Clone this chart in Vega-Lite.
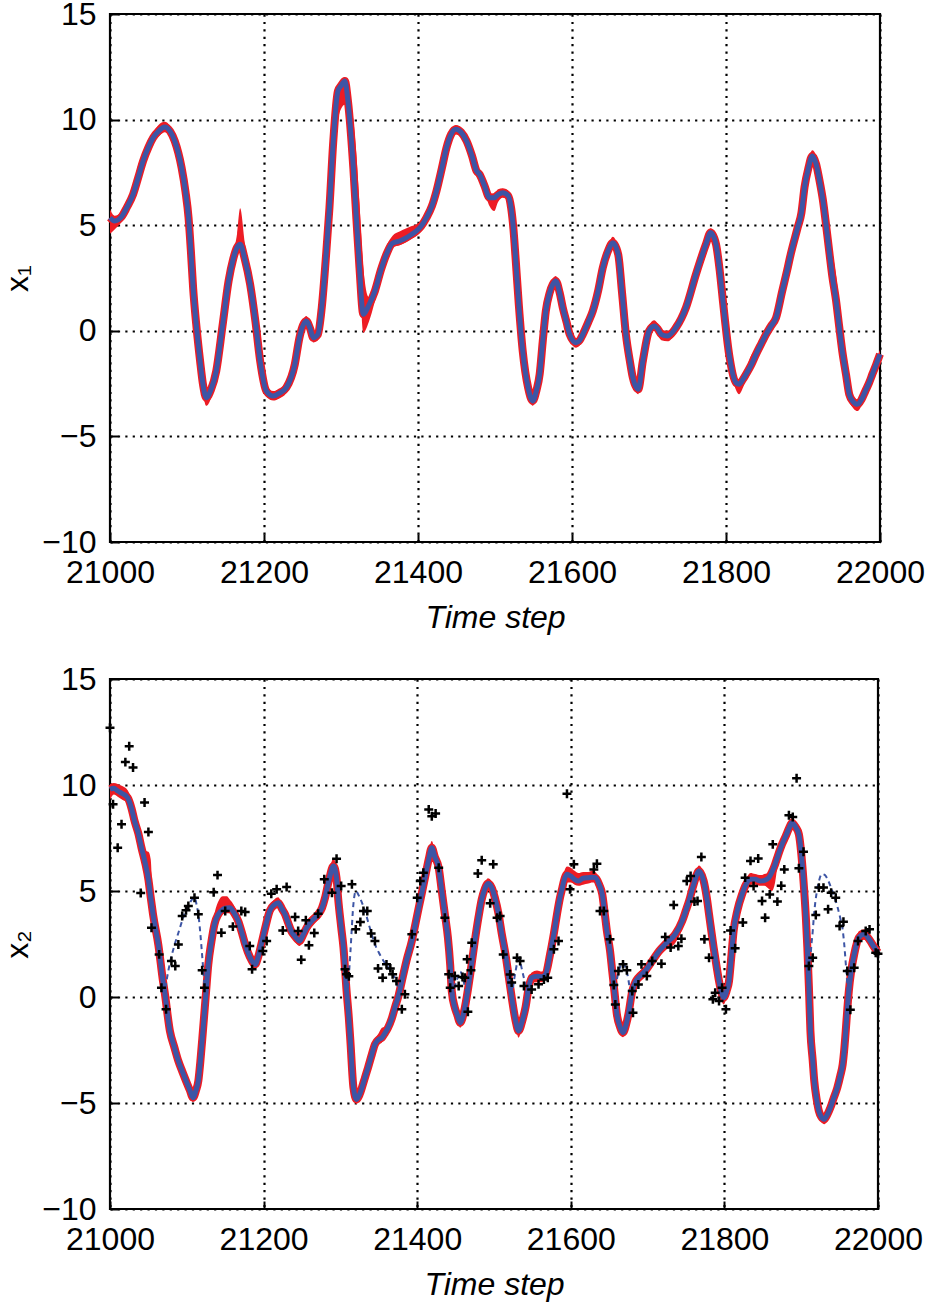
{
  "$schema": "https://vega.github.io/schema/vega-lite/v6.json",
  "padding": {"left": 0, "top": -4, "right": 0, "bottom": 0},
  "background": "white",
  "spacing": 137,
  "bounds": "flush",
  "config": {
    "view": {"stroke": "#000", "strokeWidth": 2.2},
    "axis": {
      "labelFont": "Liberation Sans", "labelFontSize": 32, "labelColor": "#000",
      "titleFont": "Liberation Sans", "titleFontSize": 32, "titleColor": "#000", "titleFontWeight": "normal",
      "grid": true, "gridColor": "#000", "gridDash": [2.2, 5.2], "gridWidth": 2.2, "gridOpacity": 1,
      "domain": false, "ticks": true, "tickSize": -8, "tickColor": "#000", "tickWidth": 2, "labelFlush": false
    }
  },
  "datasets": {
    "top": [
      {"t":21000,"x":5.36,"lo":4.6,"hi":5.75},{"t":21006,"x":5.2,"lo":4.8,"hi":5.45},{"t":21015,"x":5.4,"lo":5.15,"hi":5.65},
      {"t":21022,"x":5.85,"lo":5.6,"hi":6.1},{"t":21030,"x":6.46,"lo":6.2,"hi":6.8},{"t":21037,"x":7.3,"lo":7.0,"hi":7.9},
      {"t":21043,"x":8.04,"lo":7.8,"hi":8.4},{"t":21050,"x":8.7,"lo":8.45,"hi":8.95},{"t":21056,"x":9.14,"lo":8.9,"hi":9.4},
      {"t":21063,"x":9.45,"lo":9.2,"hi":9.75},{"t":21071,"x":9.65,"lo":9.4,"hi":9.9},{"t":21078,"x":9.45,"lo":9.2,"hi":9.7},
      {"t":21084,"x":8.99,"lo":8.75,"hi":9.25},{"t":21093,"x":7.72,"lo":7.45,"hi":8.0},{"t":21098,"x":6.6,"lo":6.3,"hi":6.9},
      {"t":21102,"x":5.36,"lo":5.0,"hi":5.6},{"t":21105,"x":3.8,"lo":3.4,"hi":4.1},{"t":21108,"x":2.0,"lo":1.6,"hi":2.3},
      {"t":21112,"x":0.3,"lo":-0.1,"hi":0.6},{"t":21117,"x":-1.43,"lo":-1.8,"hi":-1.2},{"t":21121,"x":-2.6,"lo":-3.0,"hi":-2.35},
      {"t":21125,"x":-3.17,"lo":-3.55,"hi":-2.95},{"t":21131,"x":-2.8,"lo":-3.2,"hi":-2.55},{"t":21138,"x":-1.9,"lo":-2.2,"hi":-1.65},
      {"t":21146,"x":0.2,"lo":-0.4,"hi":0.45},{"t":21154,"x":2.36,"lo":1.6,"hi":2.6},{"t":21160,"x":3.4,"lo":2.9,"hi":3.65},
      {"t":21165,"x":3.95,"lo":3.6,"hi":4.6},{"t":21169,"x":4.1,"lo":3.85,"hi":5.8},{"t":21175,"x":3.4,"lo":3.1,"hi":4.2},
      {"t":21182,"x":2.2,"lo":1.9,"hi":2.5},{"t":21189,"x":0.4,"lo":0.1,"hi":0.7},{"t":21195,"x":-1.43,"lo":-1.7,"hi":-1.15},
      {"t":21203,"x":-2.85,"lo":-3.1,"hi":-2.6},{"t":21212,"x":-3.09,"lo":-3.3,"hi":-2.85},{"t":21220,"x":-2.95,"lo":-3.2,"hi":-2.75},
      {"t":21229,"x":-2.69,"lo":-2.95,"hi":-2.45},{"t":21240,"x":-1.59,"lo":-1.85,"hi":-1.35},{"t":21246,"x":-0.33,"lo":-0.6,"hi":-0.1},
      {"t":21255,"x":0.46,"lo":0.2,"hi":0.7},{"t":21260,"x":0.1,"lo":-0.15,"hi":0.35},{"t":21264,"x":-0.33,"lo":-0.55,"hi":-0.1},
      {"t":21270,"x":-0.17,"lo":-0.45,"hi":0.05},{"t":21275,"x":1.1,"lo":0.8,"hi":1.35},{"t":21281,"x":3.78,"lo":3.3,"hi":4.0},
      {"t":21285,"x":5.83,"lo":5.2,"hi":6.1},{"t":21290,"x":8.99,"lo":8.2,"hi":9.25},{"t":21296,"x":11.35,"lo":10.0,"hi":11.6},
      {"t":21300,"x":11.6,"lo":10.5,"hi":11.8},{"t":21305,"x":11.83,"lo":10.7,"hi":12.0},{"t":21309,"x":10.88,"lo":10.6,"hi":11.3},
      {"t":21316,"x":7.72,"lo":7.5,"hi":10.0},{"t":21320,"x":5.3,"lo":5.0,"hi":8.3},{"t":21324,"x":2.99,"lo":2.7,"hi":6.0},
      {"t":21329,"x":0.78,"lo":-0.1,"hi":3.0},{"t":21336,"x":1.2,"lo":0.4,"hi":1.6},{"t":21344,"x":1.88,"lo":1.4,"hi":2.1},
      {"t":21352,"x":2.9,"lo":2.6,"hi":3.2},{"t":21359,"x":3.62,"lo":3.4,"hi":4.0},{"t":21367,"x":4.15,"lo":3.95,"hi":4.5},
      {"t":21376,"x":4.25,"lo":4.05,"hi":4.7},{"t":21385,"x":4.41,"lo":4.2,"hi":4.85},{"t":21391,"x":4.55,"lo":4.35,"hi":4.95},
      {"t":21398,"x":4.73,"lo":4.5,"hi":5.05},{"t":21404,"x":4.95,"lo":4.7,"hi":5.2},{"t":21411,"x":5.36,"lo":5.1,"hi":5.6},
      {"t":21418,"x":5.9,"lo":5.65,"hi":6.15},{"t":21424,"x":6.62,"lo":6.35,"hi":6.85},{"t":21431,"x":7.7,"lo":7.45,"hi":7.95},
      {"t":21437,"x":8.67,"lo":8.4,"hi":8.9},{"t":21443,"x":9.3,"lo":9.05,"hi":9.5},{"t":21449,"x":9.54,"lo":9.3,"hi":9.75},
      {"t":21456,"x":9.4,"lo":9.15,"hi":9.6},{"t":21463,"x":8.99,"lo":8.75,"hi":9.2},{"t":21470,"x":8.3,"lo":8.05,"hi":8.55},
      {"t":21476,"x":7.57,"lo":7.3,"hi":7.8},{"t":21480,"x":7.41,"lo":7.1,"hi":7.6},{"t":21486,"x":6.9,"lo":6.6,"hi":7.1},
      {"t":21493,"x":6.3,"lo":5.9,"hi":6.5},{"t":21499,"x":6.3,"lo":5.67,"hi":6.5},{"t":21504,"x":6.45,"lo":6.1,"hi":6.7},
      {"t":21510,"x":6.54,"lo":6.3,"hi":6.75},{"t":21517,"x":6.4,"lo":6.15,"hi":6.65},{"t":21521,"x":5.8,"lo":5.5,"hi":6.05},
      {"t":21524,"x":4.8,"lo":4.5,"hi":5.1},{"t":21527,"x":3.3,"lo":3.0,"hi":3.55},{"t":21531,"x":1.2,"lo":0.9,"hi":1.5},
      {"t":21536,"x":-0.96,"lo":-1.25,"hi":-0.7},{"t":21543,"x":-2.69,"lo":-2.95,"hi":-2.45},{"t":21549,"x":-3.32,"lo":-3.55,"hi":-3.1},
      {"t":21554,"x":-2.8,"lo":-3.05,"hi":-2.55},{"t":21558,"x":-2.06,"lo":-2.3,"hi":-1.8},{"t":21562,"x":-0.5,"lo":-0.8,"hi":-0.2},
      {"t":21566,"x":0.94,"lo":0.65,"hi":1.2},{"t":21571,"x":1.8,"lo":1.55,"hi":2.05},{"t":21575,"x":2.2,"lo":1.95,"hi":2.45},
      {"t":21579,"x":2.36,"lo":2.1,"hi":2.6},{"t":21584,"x":1.8,"lo":1.55,"hi":2.05},{"t":21588,"x":1.1,"lo":0.85,"hi":1.35},
      {"t":21593,"x":0.4,"lo":0.15,"hi":0.65},{"t":21597,"x":-0.17,"lo":-0.4,"hi":0.05},{"t":21605,"x":-0.56,"lo":-0.8,"hi":-0.35},
      {"t":21610,"x":-0.45,"lo":-0.7,"hi":-0.2},{"t":21614,"x":-0.17,"lo":-0.4,"hi":0.05},{"t":21621,"x":0.4,"lo":0.15,"hi":0.65},
      {"t":21627,"x":0.94,"lo":0.7,"hi":1.2},{"t":21634,"x":1.9,"lo":1.65,"hi":2.15},{"t":21640,"x":2.99,"lo":2.75,"hi":3.25},
      {"t":21647,"x":3.8,"lo":3.55,"hi":4.05},{"t":21653,"x":4.17,"lo":3.9,"hi":4.45},{"t":21660,"x":3.62,"lo":3.4,"hi":3.85},
      {"t":21665,"x":1.8,"lo":1.55,"hi":2.05},{"t":21670,"x":-0.17,"lo":-0.4,"hi":0.1},{"t":21675,"x":-1.4,"lo":-1.65,"hi":-1.15},
      {"t":21679,"x":-2.22,"lo":-2.45,"hi":-1.95},{"t":21686,"x":-2.77,"lo":-3.0,"hi":-2.5},{"t":21692,"x":-1.43,"lo":-1.7,"hi":-1.2},
      {"t":21700,"x":-0.01,"lo":-0.25,"hi":0.25},{"t":21707,"x":0.23,"lo":0.0,"hi":0.5},{"t":21712,"x":0.05,"lo":-0.25,"hi":0.3},
      {"t":21716,"x":-0.17,"lo":-0.45,"hi":0.05},{"t":21724,"x":-0.25,"lo":-0.5,"hi":0.0},{"t":21735,"x":0.15,"lo":-0.1,"hi":0.4},
      {"t":21748,"x":1.1,"lo":0.85,"hi":1.35},{"t":21761,"x":2.68,"lo":2.3,"hi":2.9},{"t":21774,"x":4.1,"lo":3.6,"hi":4.3},
      {"t":21780,"x":4.65,"lo":4.35,"hi":4.85},{"t":21787,"x":4.1,"lo":3.85,"hi":4.35},{"t":21792,"x":2.8,"lo":2.55,"hi":3.05},
      {"t":21796,"x":1.41,"lo":1.1,"hi":1.65},{"t":21804,"x":-1.11,"lo":-1.4,"hi":-0.85},{"t":21813,"x":-2.46,"lo":-2.8,"hi":-2.2},
      {"t":21817,"x":-2.53,"lo":-3.0,"hi":-2.3},{"t":21822,"x":-2.3,"lo":-2.7,"hi":-2.05},{"t":21826,"x":-2.06,"lo":-2.3,"hi":-1.8},
      {"t":21833,"x":-1.6,"lo":-1.75,"hi":-1.15},{"t":21839,"x":-1.11,"lo":-1.3,"hi":-0.85},{"t":21846,"x":-0.6,"lo":-0.85,"hi":-0.35},
      {"t":21852,"x":-0.17,"lo":-0.4,"hi":0.05},{"t":21858,"x":0.2,"lo":-0.05,"hi":0.45},{"t":21865,"x":0.62,"lo":0.35,"hi":0.9},
      {"t":21873,"x":1.88,"lo":1.6,"hi":2.15},{"t":21879,"x":2.8,"lo":2.5,"hi":3.05},{"t":21884,"x":3.62,"lo":3.3,"hi":3.9},
      {"t":21893,"x":4.88,"lo":4.6,"hi":5.2},{"t":21898,"x":5.6,"lo":5.3,"hi":5.9},{"t":21902,"x":6.8,"lo":6.5,"hi":7.1},
      {"t":21907,"x":7.7,"lo":7.4,"hi":8.0},{"t":21912,"x":8.28,"lo":8.0,"hi":8.55},{"t":21917,"x":7.9,"lo":7.6,"hi":8.3},
      {"t":21921,"x":7.2,"lo":6.95,"hi":7.6},{"t":21926,"x":6.15,"lo":5.9,"hi":6.8},{"t":21930,"x":5.0,"lo":4.75,"hi":6.0},
      {"t":21934,"x":3.78,"lo":3.5,"hi":4.9},{"t":21938,"x":2.6,"lo":2.35,"hi":3.8},{"t":21943,"x":1.41,"lo":1.15,"hi":2.6},
      {"t":21947,"x":0.2,"lo":-0.05,"hi":1.4},{"t":21951,"x":-0.96,"lo":-1.2,"hi":0.0},{"t":21956,"x":-2.1,"lo":-2.35,"hi":-1.3},
      {"t":21960,"x":-3.0,"lo":-3.3,"hi":-2.5},{"t":21965,"x":-3.35,"lo":-3.65,"hi":-3.1},{"t":21971,"x":-3.48,"lo":-3.8,"hi":-3.25},
      {"t":21976,"x":-3.25,"lo":-3.55,"hi":-3.0},{"t":21981,"x":-2.85,"lo":-3.1,"hi":-2.6},{"t":21986,"x":-2.45,"lo":-2.7,"hi":-2.2},
      {"t":21990,"x":-2.06,"lo":-2.3,"hi":-1.8},{"t":21995,"x":-1.6,"lo":-1.85,"hi":-1.35},{"t":22000,"x":-1.11,"lo":-1.35,"hi":-0.9}
    ],
    "bot": [
      {"t":21000,"x":9.8,"lo":9.3,"hi":10.05},{"t":21005,"x":9.85,"lo":9.55,"hi":10.1},{"t":21010,"x":9.72,"lo":9.45,"hi":10.05},
      {"t":21016,"x":9.6,"lo":9.3,"hi":9.95},{"t":21023,"x":9.4,"lo":9.15,"hi":9.75},{"t":21028,"x":8.9,"lo":8.6,"hi":9.3},
      {"t":21032,"x":8.3,"lo":8.05,"hi":8.7},{"t":21037,"x":7.7,"lo":7.4,"hi":8.1},{"t":21041,"x":7.04,"lo":6.8,"hi":7.3},
      {"t":21046,"x":6.3,"lo":6.0,"hi":6.9},{"t":21050,"x":5.55,"lo":5.3,"hi":6.85},{"t":21053,"x":4.7,"lo":4.45,"hi":6.5},
      {"t":21056,"x":3.9,"lo":3.65,"hi":4.2},{"t":21063,"x":2.45,"lo":2.2,"hi":2.7},{"t":21069,"x":0.75,"lo":0.5,"hi":1.0},
      {"t":21071,"x":0.28,"lo":0.05,"hi":0.5},{"t":21078,"x":-1.6,"lo":-1.85,"hi":-1.35},{"t":21084,"x":-2.4,"lo":-2.65,"hi":-2.15},
      {"t":21089,"x":-3.02,"lo":-3.25,"hi":-2.8},{"t":21094,"x":-3.5,"lo":-3.75,"hi":-3.25},{"t":21099,"x":-3.96,"lo":-4.2,"hi":-3.7},
      {"t":21104,"x":-4.4,"lo":-4.65,"hi":-4.15},{"t":21108,"x":-4.75,"lo":-4.95,"hi":-4.5},{"t":21112,"x":-4.4,"lo":-4.65,"hi":-4.15},
      {"t":21115,"x":-3.96,"lo":-4.2,"hi":-3.7},{"t":21118,"x":-2.9,"lo":-3.15,"hi":-2.65},{"t":21121,"x":-1.6,"lo":-1.9,"hi":-1.35},
      {"t":21125,"x":0.2,"lo":-0.1,"hi":0.45},{"t":21128,"x":1.54,"lo":1.25,"hi":1.8},{"t":21132,"x":2.6,"lo":2.3,"hi":2.9},
      {"t":21136,"x":3.43,"lo":3.2,"hi":3.9},{"t":21141,"x":3.9,"lo":3.65,"hi":4.5},{"t":21147,"x":4.14,"lo":3.9,"hi":4.75},
      {"t":21152,"x":4.2,"lo":3.95,"hi":4.75},{"t":21156,"x":4.21,"lo":3.95,"hi":4.6},{"t":21161,"x":4.0,"lo":3.75,"hi":4.35},
      {"t":21167,"x":3.58,"lo":3.3,"hi":3.85},{"t":21172,"x":3.0,"lo":2.75,"hi":3.3},{"t":21176,"x":2.48,"lo":2.2,"hi":2.75},
      {"t":21182,"x":1.9,"lo":1.65,"hi":2.15},{"t":21189,"x":1.54,"lo":1.3,"hi":1.8},{"t":21193,"x":1.9,"lo":1.65,"hi":2.15},
      {"t":21197,"x":2.48,"lo":2.25,"hi":2.75},{"t":21203,"x":3.4,"lo":3.15,"hi":3.65},{"t":21208,"x":4.06,"lo":3.8,"hi":4.3},
      {"t":21214,"x":4.35,"lo":4.1,"hi":4.6},{"t":21219,"x":4.45,"lo":4.2,"hi":4.7},{"t":21224,"x":4.15,"lo":3.9,"hi":4.4},
      {"t":21228,"x":3.9,"lo":3.65,"hi":4.15},{"t":21232,"x":3.5,"lo":3.25,"hi":3.75},{"t":21236,"x":3.11,"lo":2.85,"hi":3.35},
      {"t":21241,"x":2.85,"lo":2.6,"hi":3.1},{"t":21247,"x":2.64,"lo":2.4,"hi":2.9},{"t":21251,"x":2.9,"lo":2.65,"hi":3.2},
      {"t":21256,"x":3.27,"lo":3.0,"hi":3.6},{"t":21263,"x":3.6,"lo":3.35,"hi":3.85},{"t":21271,"x":3.9,"lo":3.65,"hi":4.15},
      {"t":21276,"x":4.2,"lo":3.95,"hi":4.45},{"t":21280,"x":4.68,"lo":4.4,"hi":4.95},{"t":21285,"x":5.5,"lo":5.25,"hi":5.8},
      {"t":21291,"x":6.18,"lo":5.9,"hi":6.57},{"t":21295,"x":5.6,"lo":5.3,"hi":5.9},{"t":21297,"x":4.68,"lo":4.4,"hi":4.95},
      {"t":21301,"x":3.3,"lo":3.0,"hi":3.6},{"t":21304,"x":2.33,"lo":2.05,"hi":2.6},{"t":21308,"x":0.3,"lo":0.0,"hi":0.6},
      {"t":21311,"x":-1.0,"lo":-1.3,"hi":-0.7},{"t":21313,"x":-2.08,"lo":-2.35,"hi":-1.8},{"t":21317,"x":-4.28,"lo":-4.55,"hi":-4.0},
      {"t":21321,"x":-4.83,"lo":-5.05,"hi":-4.4},{"t":21325,"x":-4.6,"lo":-4.85,"hi":-4.3},{"t":21328,"x":-4.28,"lo":-4.7,"hi":-4.0},
      {"t":21332,"x":-3.8,"lo":-4.05,"hi":-3.55},{"t":21336,"x":-3.33,"lo":-3.6,"hi":-3.05},{"t":21341,"x":-2.7,"lo":-2.95,"hi":-2.45},
      {"t":21345,"x":-2.23,"lo":-2.5,"hi":-2.0},{"t":21350,"x":-2.0,"lo":-2.25,"hi":-1.7},{"t":21354,"x":-1.92,"lo":-2.15,"hi":-1.45},
      {"t":21358,"x":-1.7,"lo":-1.95,"hi":-1.4},{"t":21362,"x":-1.45,"lo":-1.7,"hi":-1.2},{"t":21367,"x":-1.0,"lo":-1.3,"hi":-0.75},
      {"t":21371,"x":-0.5,"lo":-0.8,"hi":-0.25},{"t":21376,"x":0.1,"lo":-0.3,"hi":0.35},{"t":21380,"x":0.75,"lo":0.3,"hi":1.0},
      {"t":21386,"x":1.7,"lo":1.2,"hi":1.95},{"t":21393,"x":2.64,"lo":2.3,"hi":2.9},{"t":21398,"x":3.5,"lo":3.25,"hi":3.75},
      {"t":21402,"x":4.21,"lo":3.95,"hi":4.45},{"t":21406,"x":4.9,"lo":4.65,"hi":5.15},{"t":21410,"x":5.6,"lo":5.35,"hi":5.85},
      {"t":21415,"x":6.5,"lo":6.25,"hi":6.85},{"t":21419,"x":7.04,"lo":6.75,"hi":7.36},{"t":21423,"x":6.6,"lo":6.35,"hi":6.9},
      {"t":21428,"x":6.1,"lo":5.85,"hi":6.35},{"t":21432,"x":5.0,"lo":4.75,"hi":5.25},{"t":21436,"x":3.9,"lo":3.65,"hi":4.15},
      {"t":21440,"x":2.8,"lo":2.55,"hi":3.05},{"t":21443,"x":1.5,"lo":1.25,"hi":1.75},{"t":21445,"x":0.28,"lo":0.0,"hi":0.5},
      {"t":21449,"x":-0.5,"lo":-0.75,"hi":-0.25},{"t":21452,"x":-0.82,"lo":-1.05,"hi":-0.6},{"t":21456,"x":-1.21,"lo":-1.45,"hi":-1.0},
      {"t":21462,"x":-0.5,"lo":-0.75,"hi":-0.25},{"t":21469,"x":1.07,"lo":0.8,"hi":1.3},{"t":21475,"x":2.64,"lo":2.4,"hi":2.9},
      {"t":21480,"x":3.8,"lo":3.55,"hi":4.05},{"t":21484,"x":4.6,"lo":4.35,"hi":4.85},{"t":21488,"x":5.1,"lo":4.85,"hi":5.35},
      {"t":21492,"x":5.35,"lo":5.1,"hi":5.6},{"t":21497,"x":5.16,"lo":4.9,"hi":5.45},{"t":21501,"x":4.7,"lo":4.45,"hi":4.95},
      {"t":21506,"x":3.9,"lo":3.65,"hi":4.15},{"t":21510,"x":3.0,"lo":2.75,"hi":3.25},{"t":21515,"x":2.0,"lo":1.75,"hi":2.25},
      {"t":21519,"x":1.0,"lo":0.75,"hi":1.25},{"t":21523,"x":0.0,"lo":-0.25,"hi":0.25},{"t":21528,"x":-1.1,"lo":-1.35,"hi":-0.85},
      {"t":21532,"x":-1.6,"lo":-1.92,"hi":-1.35},{"t":21537,"x":-1.1,"lo":-1.35,"hi":-0.85},{"t":21541,"x":-0.5,"lo":-0.75,"hi":-0.25},
      {"t":21545,"x":0.4,"lo":0.15,"hi":0.65},{"t":21549,"x":0.91,"lo":0.65,"hi":1.15},{"t":21556,"x":0.98,"lo":0.7,"hi":1.25},
      {"t":21562,"x":0.95,"lo":0.7,"hi":1.2},{"t":21567,"x":1.06,"lo":0.8,"hi":1.3},{"t":21573,"x":2.01,"lo":1.75,"hi":2.25},
      {"t":21578,"x":3.0,"lo":2.75,"hi":3.3},{"t":21582,"x":3.9,"lo":3.6,"hi":4.2},{"t":21586,"x":4.7,"lo":4.4,"hi":5.0},
      {"t":21589,"x":5.16,"lo":4.9,"hi":5.5},{"t":21591,"x":5.47,"lo":5.2,"hi":5.85},{"t":21595,"x":5.79,"lo":5.4,"hi":6.15},
      {"t":21600,"x":5.7,"lo":5.4,"hi":6.1},{"t":21605,"x":5.55,"lo":5.3,"hi":5.95},{"t":21610,"x":5.47,"lo":5.25,"hi":5.85},
      {"t":21616,"x":5.6,"lo":5.3,"hi":5.9},{"t":21623,"x":5.63,"lo":5.35,"hi":5.9},{"t":21628,"x":5.65,"lo":5.4,"hi":5.95},
      {"t":21632,"x":5.63,"lo":5.4,"hi":5.9},{"t":21637,"x":5.3,"lo":5.05,"hi":5.55},{"t":21641,"x":4.84,"lo":4.6,"hi":5.1},
      {"t":21644,"x":4.0,"lo":3.75,"hi":4.25},{"t":21647,"x":3.11,"lo":2.85,"hi":3.35},{"t":21651,"x":2.2,"lo":1.95,"hi":2.45},
      {"t":21654,"x":1.2,"lo":0.95,"hi":1.45},{"t":21657,"x":0.2,"lo":-0.05,"hi":0.45},{"t":21660,"x":-0.82,"lo":-1.05,"hi":-0.6},
      {"t":21664,"x":-1.4,"lo":-1.65,"hi":-1.15},{"t":21668,"x":-1.68,"lo":-1.9,"hi":-1.45},{"t":21672,"x":-1.3,"lo":-1.55,"hi":-1.05},
      {"t":21675,"x":-0.82,"lo":-1.05,"hi":-0.6},{"t":21680,"x":0.28,"lo":0.05,"hi":0.5},{"t":21684,"x":0.7,"lo":0.45,"hi":0.95},
      {"t":21688,"x":0.91,"lo":0.65,"hi":1.15},{"t":21697,"x":1.23,"lo":0.95,"hi":1.5},{"t":21706,"x":1.7,"lo":1.45,"hi":1.95},
      {"t":21715,"x":2.17,"lo":1.9,"hi":2.4},{"t":21725,"x":2.56,"lo":2.25,"hi":2.8},{"t":21736,"x":2.96,"lo":2.55,"hi":3.2},
      {"t":21745,"x":3.58,"lo":3.2,"hi":3.8},{"t":21750,"x":4.1,"lo":3.75,"hi":4.35},{"t":21754,"x":4.53,"lo":4.25,"hi":4.75},
      {"t":21760,"x":5.32,"lo":5.05,"hi":5.55},{"t":21767,"x":5.94,"lo":5.65,"hi":6.2},{"t":21773,"x":5.47,"lo":5.2,"hi":5.75},
      {"t":21777,"x":4.7,"lo":4.45,"hi":4.95},{"t":21780,"x":3.9,"lo":3.65,"hi":4.15},{"t":21786,"x":2.33,"lo":2.05,"hi":2.6},
      {"t":21790,"x":1.4,"lo":1.1,"hi":1.65},{"t":21793,"x":0.75,"lo":0.45,"hi":1.0},{"t":21799,"x":-0.03,"lo":-0.35,"hi":0.2},
      {"t":21803,"x":0.3,"lo":0.0,"hi":0.55},{"t":21806,"x":0.75,"lo":0.5,"hi":1.0},{"t":21809,"x":1.9,"lo":1.65,"hi":2.15},
      {"t":21812,"x":3.11,"lo":2.85,"hi":3.35},{"t":21817,"x":4.1,"lo":3.85,"hi":4.35},{"t":21823,"x":4.84,"lo":4.6,"hi":5.1},
      {"t":21828,"x":5.3,"lo":5.05,"hi":5.55},{"t":21834,"x":5.55,"lo":5.3,"hi":5.85},{"t":21840,"x":5.55,"lo":5.3,"hi":5.8},
      {"t":21847,"x":5.47,"lo":5.25,"hi":5.75},{"t":21852,"x":5.5,"lo":5.25,"hi":5.8},{"t":21858,"x":5.63,"lo":5.1,"hi":5.9},
      {"t":21862,"x":5.9,"lo":5.0,"hi":6.15},{"t":21866,"x":6.26,"lo":5.4,"hi":6.5},{"t":21870,"x":6.7,"lo":6.4,"hi":6.95},
      {"t":21875,"x":7.2,"lo":6.95,"hi":7.45},{"t":21880,"x":7.6,"lo":7.35,"hi":7.85},{"t":21884,"x":7.95,"lo":7.7,"hi":8.2},
      {"t":21888,"x":8.22,"lo":7.95,"hi":8.45},{"t":21893,"x":8.0,"lo":7.75,"hi":8.25},{"t":21897,"x":7.67,"lo":7.4,"hi":7.9},
      {"t":21900,"x":6.8,"lo":6.55,"hi":7.05},{"t":21903,"x":5.47,"lo":5.2,"hi":5.75},{"t":21906,"x":3.8,"lo":3.55,"hi":4.05},
      {"t":21908,"x":2.33,"lo":2.05,"hi":2.6},{"t":21910,"x":0.5,"lo":0.2,"hi":0.8},{"t":21912,"x":-1.6,"lo":-1.85,"hi":-1.35},
      {"t":21915,"x":-3.0,"lo":-3.25,"hi":-2.75},{"t":21917,"x":-3.96,"lo":-4.2,"hi":-3.7},{"t":21920,"x":-4.8,"lo":-5.05,"hi":-4.55},
      {"t":21923,"x":-5.38,"lo":-5.6,"hi":-5.15},{"t":21926,"x":-5.65,"lo":-5.9,"hi":-5.4},{"t":21930,"x":-5.77,"lo":-6.0,"hi":-5.55},
      {"t":21934,"x":-5.55,"lo":-5.85,"hi":-5.3},{"t":21938,"x":-5.22,"lo":-5.55,"hi":-4.95},{"t":21942,"x":-4.8,"lo":-5.1,"hi":-4.55},
      {"t":21947,"x":-4.28,"lo":-4.55,"hi":-4.0},{"t":21951,"x":-3.7,"lo":-3.95,"hi":-3.45},{"t":21954,"x":-3.18,"lo":-3.45,"hi":-2.9},
      {"t":21956,"x":-2.5,"lo":-2.75,"hi":-2.25},{"t":21958,"x":-1.6,"lo":-1.85,"hi":-1.35},{"t":21960,"x":-0.6,"lo":-0.85,"hi":-0.35},
      {"t":21962,"x":0.28,"lo":0.0,"hi":0.55},{"t":21965,"x":1.2,"lo":0.95,"hi":1.45},{"t":21969,"x":2.01,"lo":1.75,"hi":2.25},
      {"t":21975,"x":2.8,"lo":2.55,"hi":3.1},{"t":21982,"x":2.96,"lo":2.7,"hi":3.2},{"t":21990,"x":2.64,"lo":2.4,"hi":2.9},
      {"t":21995,"x":2.35,"lo":2.1,"hi":2.6},{"t":22000,"x":2.1,"lo":1.85,"hi":2.35}
    ],
    "dash": [
      {"seg":1,"t":21070,"v":0},{"seg":1,"t":21078,"v":1.6},{"seg":1,"t":21084,"v":2.45},{"seg":1,"t":21089,"v":3.02},
      {"seg":1,"t":21094,"v":3.6},{"seg":1,"t":21099,"v":4.1},{"seg":1,"t":21104,"v":4.45},{"seg":1,"t":21110,"v":4.7},
      {"seg":1,"t":21113,"v":4.3},{"seg":1,"t":21116,"v":3.6},{"seg":1,"t":21119,"v":2.4},{"seg":1,"t":21122,"v":1.0},{"seg":1,"t":21124,"v":0},
      {"seg":2,"t":21309,"v":0},{"seg":2,"t":21311,"v":1.0},{"seg":2,"t":21313,"v":2.1},{"seg":2,"t":21317,"v":4.4},
      {"seg":2,"t":21320,"v":5.0},{"seg":2,"t":21325,"v":4.7},{"seg":2,"t":21332,"v":4.06},{"seg":2,"t":21338,"v":3.3},
      {"seg":2,"t":21345,"v":2.48},{"seg":2,"t":21350,"v":2.1},{"seg":2,"t":21358,"v":1.6},{"seg":2,"t":21366,"v":1.2},
      {"seg":2,"t":21373,"v":0.7},{"seg":2,"t":21378,"v":0},
      {"seg":3,"t":21446,"v":0},{"seg":3,"t":21449,"v":0.5},{"seg":3,"t":21452,"v":0.85},{"seg":3,"t":21456,"v":1.2},
      {"seg":3,"t":21460,"v":0.8},{"seg":3,"t":21465,"v":0},
      {"seg":4,"t":21523,"v":0},{"seg":4,"t":21528,"v":1.2},{"seg":4,"t":21532,"v":1.8},{"seg":4,"t":21537,"v":1.2},
      {"seg":4,"t":21541,"v":0.5},{"seg":4,"t":21543,"v":0},
      {"seg":5,"t":21657,"v":0},{"seg":5,"t":21660,"v":0.82},{"seg":5,"t":21664,"v":1.4},{"seg":5,"t":21668,"v":1.6},
      {"seg":5,"t":21672,"v":1.3},{"seg":5,"t":21675,"v":0.82},{"seg":5,"t":21678,"v":0},
      {"seg":6,"t":21911,"v":0},{"seg":6,"t":21912,"v":1.6},{"seg":6,"t":21915,"v":3.1},{"seg":6,"t":21917,"v":4.0},
      {"seg":6,"t":21920,"v":4.9},{"seg":6,"t":21923,"v":5.45},{"seg":6,"t":21927,"v":5.8},{"seg":6,"t":21931,"v":5.75},
      {"seg":6,"t":21935,"v":5.5},{"seg":6,"t":21939,"v":5.15},{"seg":6,"t":21943,"v":4.75},{"seg":6,"t":21947,"v":4.28},
      {"seg":6,"t":21951,"v":3.7},{"seg":6,"t":21954,"v":3.18},{"seg":6,"t":21956,"v":2.5},{"seg":6,"t":21958,"v":1.6},
      {"seg":6,"t":21960,"v":0.6},{"seg":6,"t":21961,"v":0}
    ],
    "obs": [
      {"t":21000,"v":12.7},{"t":21004,"v":9.09},{"t":21010,"v":7.04},{"t":21015,"v":8.15},{"t":21020,"v":11.08},
      {"t":21025,"v":11.83},{"t":21030,"v":10.83},{"t":21040,"v":4.91},{"t":21045,"v":9.17},{"t":21050,"v":7.78},
      {"t":21054,"v":3.27},{"t":21064,"v":2.01},{"t":21067,"v":0.44},{"t":21073,"v":-0.58},{"t":21080,"v":1.7},
      {"t":21085,"v":1.46},{"t":21089,"v":2.48},{"t":21094,"v":3.82},{"t":21099,"v":4.09},{"t":21102,"v":4.29},
      {"t":21110,"v":4.68},{"t":21115,"v":3.9},{"t":21120,"v":1.26},{"t":21123,"v":0.44},{"t":21135,"v":4.94},
      {"t":21140,"v":5.75},{"t":21145,"v":3.03},{"t":21150,"v":4.06},{"t":21160,"v":3.32},{"t":21171,"v":4.06},
      {"t":21176,"v":4.01},{"t":21182,"v":2.41},{"t":21185,"v":1.31},{"t":21199,"v":2.17},{"t":21204,"v":2.64},
      {"t":21210,"v":4.87},{"t":21217,"v":5.08},{"t":21225,"v":3.14},{"t":21230,"v":5.19},{"t":21241,"v":3.77},
      {"t":21245,"v":3.11},{"t":21249,"v":1.76},{"t":21255,"v":3.62},{"t":21259,"v":2.44},{"t":21266,"v":3.02},
      {"t":21271,"v":3.93},{"t":21279,"v":5.55},{"t":21289,"v":4.92},{"t":21295,"v":6.52},{"t":21301,"v":5.24},
      {"t":21306,"v":1.31},{"t":21308,"v":1.07},{"t":21311,"v":0.98},{"t":21315,"v":5.32},{"t":21320,"v":3.19},
      {"t":21326,"v":3.54},{"t":21330,"v":4.06},{"t":21335,"v":4.06},{"t":21340,"v":3.0},{"t":21345,"v":2.64},
      {"t":21349,"v":1.35},{"t":21355,"v":0.91},{"t":21360,"v":1.54},{"t":21365,"v":1.35},{"t":21368,"v":1.07},
      {"t":21373,"v":0.75},{"t":21380,"v":-0.58},{"t":21384,"v":0.13},{"t":21393,"v":2.96},{"t":21400,"v":4.68},
      {"t":21404,"v":5.47},{"t":21408,"v":5.86},{"t":21415,"v":8.85},{"t":21419,"v":8.53},{"t":21424,"v":8.66},
      {"t":21428,"v":6.1},{"t":21436,"v":3.74},{"t":21441,"v":1.07},{"t":21443,"v":0.44},{"t":21449,"v":0.99},
      {"t":21454,"v":0.52},{"t":21459,"v":0.94},{"t":21462,"v":0.91},{"t":21466,"v":-0.7},{"t":21470,"v":1.26},
      {"t":21465,"v":1.78},{"t":21471,"v":2.56},{"t":21479,"v":5.83},{"t":21484,"v":6.45},{"t":21495,"v":4.42},
      {"t":21499,"v":6.26},{"t":21504,"v":3.74},{"t":21508,"v":3.82},{"t":21512,"v":2.01},{"t":21521,"v":1.06},
      {"t":21523,"v":0.68},{"t":21530,"v":1.85},{"t":21534,"v":1.7},{"t":21539,"v":0.52},{"t":21549,"v":0.35},
      {"t":21558,"v":0.6},{"t":21565,"v":0.83},{"t":21570,"v":0.91},{"t":21578,"v":2.25},{"t":21584,"v":2.64},
      {"t":21595,"v":9.59},{"t":21599,"v":5.08},{"t":21604,"v":6.26},{"t":21630,"v":6.02},{"t":21634,"v":6.29},
      {"t":21638,"v":4.06},{"t":21643,"v":4.06},{"t":21651,"v":2.72},{"t":21656,"v":0.57},{"t":21658,"v":-0.35},
      {"t":21662,"v":1.23},{"t":21668,"v":1.54},{"t":21673,"v":1.26},{"t":21680,"v":0.28},{"t":21681,"v":-0.74},
      {"t":21688,"v":0.59},{"t":21692,"v":1.54},{"t":21699,"v":0.99},{"t":21706,"v":1.7},{"t":21718,"v":1.57},
      {"t":21723,"v":2.83},{"t":21730,"v":2.33},{"t":21734,"v":4.34},{"t":21740,"v":2.41},{"t":21744,"v":2.75},
      {"t":21751,"v":5.47},{"t":21756,"v":5.71},{"t":21761,"v":4.5},{"t":21765,"v":4.53},{"t":21770,"v":6.6},
      {"t":21774,"v":2.72},{"t":21780,"v":1.85},{"t":21785,"v":-0.11},{"t":21788,"v":0.2},{"t":21793,"v":-0.19},
      {"t":21797,"v":0.44},{"t":21802,"v":-0.58},{"t":21808,"v":3.14},{"t":21814,"v":2.3},{"t":21824,"v":3.51},
      {"t":21827,"v":5.63},{"t":21834,"v":6.42},{"t":21838,"v":5.24},{"t":21844,"v":6.53},{"t":21849,"v":4.53},
      {"t":21853,"v":3.74},{"t":21859,"v":4.84},{"t":21863,"v":7.2},{"t":21869,"v":4.5},{"t":21874,"v":5.25},
      {"t":21878,"v":6.02},{"t":21884,"v":8.57},{"t":21889,"v":8.49},{"t":21894,"v":10.32},{"t":21897,"v":6.07},
      {"t":21903,"v":6.85},{"t":21910,"v":1.46},{"t":21915,"v":1.85},{"t":21919,"v":3.87},{"t":21923,"v":5.16},
      {"t":21929,"v":5.16},{"t":21935,"v":4.14},{"t":21939,"v":4.92},{"t":21945,"v":4.68},{"t":21950,"v":3.35},
      {"t":21955,"v":3.55},{"t":21960,"v":1.23},{"t":21964,"v":-0.6},{"t":21969,"v":1.38},{"t":21974,"v":2.64},
      {"t":21984,"v":3.11},{"t":21989,"v":3.19},{"t":21997,"v":2.09},{"t":22000,"v":2.04}
    ]
  },
  "vconcat": [
    {
      "width": 770, "height": 528,
      "encoding": {
        "x": {"field": "t", "type": "quantitative",
              "scale": {"domain": [21000, 22000], "nice": false},
              "axis": {"values": [21000, 21200, 21400, 21600, 21800, 22000], "format": "d", "title": "Time step",
                       "titleFontStyle": "italic", "labelPadding": 23, "titlePadding": 14}}
      },
      "layer": [
        {"data": {"name": "top"}, "mark": {"type": "area", "color": "#ED1C24", "opacity": 1, "interpolate": "monotone"},
         "encoding": {"y": {"field": "lo", "type": "quantitative",
                            "scale": {"domain": [-10, 15], "nice": false},
                            "axis": {"values": [-10, -5, 0, 5, 10, 15], "title": "x₁", "labelPadding": 22, "titlePadding": 7}},
                      "y2": {"field": "hi"}}},
        {"data": {"name": "top"}, "mark": {"type": "line", "color": "#ED1C24", "strokeWidth": 8, "interpolate": "monotone"},
         "encoding": {"y": {"field": "x", "type": "quantitative"}}},
        {"data": {"name": "top"}, "mark": {"type": "line", "color": "#3D55A5", "strokeWidth": 5, "interpolate": "monotone"},
         "encoding": {"y": {"field": "x", "type": "quantitative"}}}
      ]
    },
    {
      "width": 768, "height": 530,
      "encoding": {
        "x": {"field": "t", "type": "quantitative",
              "scale": {"domain": [21000, 22000], "nice": false},
              "axis": {"values": [21000, 21200, 21400, 21600, 21800, 22000], "format": "d", "title": "Time step",
                       "titleFontStyle": "italic", "labelPadding": 23, "titlePadding": 14}}
      },
      "layer": [
        {"data": {"name": "bot"}, "mark": {"type": "area", "color": "#ED1C24", "opacity": 1, "interpolate": "monotone"},
         "encoding": {"y": {"field": "lo", "type": "quantitative",
                            "scale": {"domain": [-10, 15], "nice": false},
                            "axis": {"values": [-10, -5, 0, 5, 10, 15], "title": "x₂", "labelPadding": 22, "titlePadding": 7}},
                      "y2": {"field": "hi"}}},
        {"data": {"name": "bot"}, "mark": {"type": "line", "color": "#ED1C24", "strokeWidth": 8, "interpolate": "monotone"},
         "encoding": {"y": {"field": "x", "type": "quantitative"}}},
        {"data": {"name": "dash"}, "mark": {"type": "line", "color": "#3D55A5", "strokeWidth": 2, "strokeDash": [5, 4], "interpolate": "monotone"},
         "encoding": {"y": {"field": "v", "type": "quantitative"}, "detail": {"field": "seg"}}},
        {"data": {"name": "bot"}, "mark": {"type": "line", "color": "#3D55A5", "strokeWidth": 5, "interpolate": "monotone"},
         "encoding": {"y": {"field": "x", "type": "quantitative"}}},
        {"data": {"name": "obs"}, "mark": {"type": "point", "shape": "M-1,0H1M0,-1V1", "filled": false, "stroke": "#000", "strokeWidth": 2.5, "size": 80, "opacity": 1},
         "encoding": {"y": {"field": "v", "type": "quantitative"}}}
      ]
    }
  ]
}
